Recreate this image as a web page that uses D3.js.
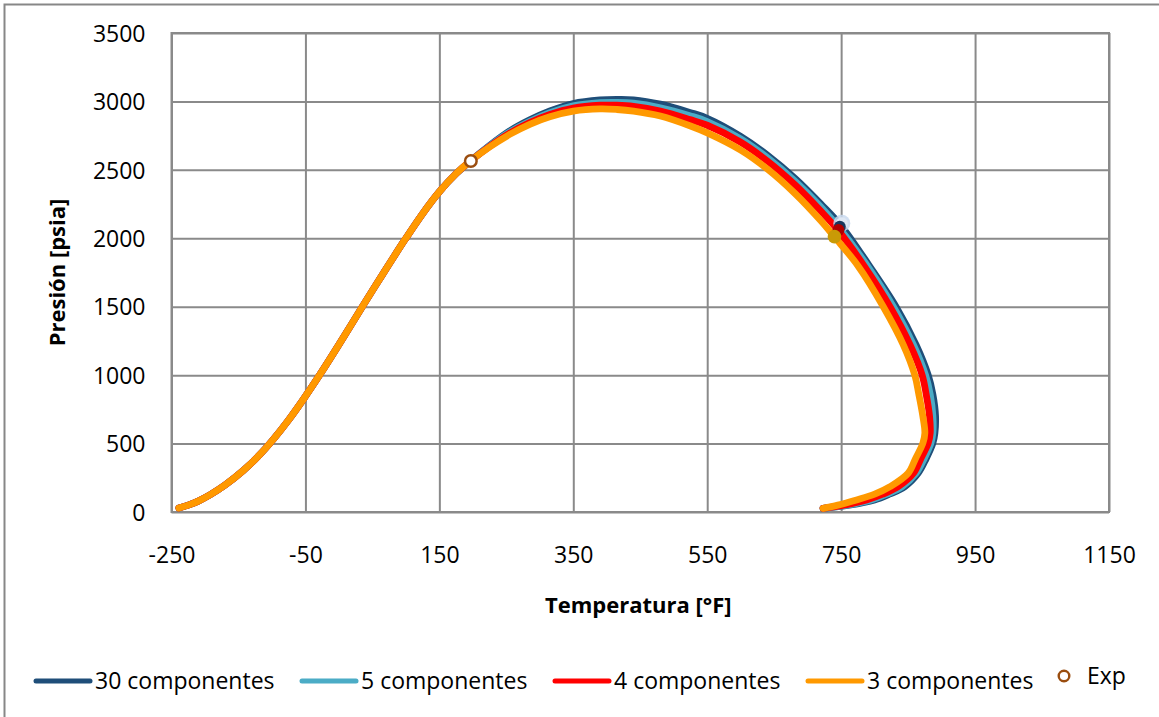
<!DOCTYPE html>
<html>
<head>
<meta charset="utf-8">
<script src="https://cdn.jsdelivr.net/npm/d3@7"></script>
<style>
  html, body { margin: 0; padding: 0; background: #fff; }
  svg { display: block; font-family: "Open Sans", Carlito, Calibri, sans-serif; }
</style>
</head>
<body>
<svg id="chart" width="1159" height="717"></svg>
<script>
// Axis ticks
const tempTicks = [-250, -50, 150, 350, 550, 750, 950, 1150];
const presTicks = [0, 500, 1000, 1500, 2000, 2500, 3000, 3500];

// Bubble-point branch, common to every model
const bubbleT = [-239, -225, -210, -192, -170, -143, -120, -98, -76, -54, -28, 0, 34, 66, 99, 125, 150, 175];
const bubbleP = [29, 50, 80, 127, 197, 302, 410, 531, 667, 817, 1007, 1223, 1492, 1742, 1993, 2180, 2340, 2472];

// Upper branch and dew-point branch of each model
const c30T = [197, 225, 255, 285, 315, 350, 390, 415, 440, 480, 524, 550, 600, 640, 681, 720, 751, 792, 832, 862, 880, 887, 891, 890, 887, 877, 865, 845, 822, 800, 762, 723];
const c30P = [2567, 2678, 2784, 2865, 2930, 2985, 3011, 3015, 3012, 2980, 2920, 2877, 2745, 2608, 2439, 2250, 2086, 1800, 1500, 1220, 1000, 860, 700, 577, 502, 390, 283, 185, 130, 88, 50, 27];

const c5T = [197, 225, 255, 285, 315, 350, 390, 415, 440, 480, 524, 550, 600, 640, 681, 720, 748, 789, 828, 858, 876, 883, 887, 887, 884, 874, 862, 841, 818, 795, 759, 723];
const c5P = [2567, 2675, 2777, 2855, 2917, 2968, 2991, 2993, 2987, 2954, 2896, 2853, 2727, 2589, 2419, 2228, 2070, 1800, 1500, 1220, 1000, 860, 700, 577, 502, 390, 283, 185, 130, 88, 50, 27];

const c4T = [197, 225, 255, 285, 315, 350, 390, 415, 440, 480, 524, 550, 600, 640, 681, 720, 746, 784, 823, 853, 871, 877, 882, 883, 880, 869, 858, 835, 812, 788, 754, 723];
const c4P = [2567, 2671, 2768, 2845, 2905, 2952, 2972, 2972, 2964, 2930, 2868, 2826, 2702, 2564, 2391, 2197, 2055, 1800, 1500, 1220, 1000, 860, 700, 577, 502, 390, 283, 185, 130, 88, 50, 27];

const c3T = [197, 225, 255, 285, 315, 350, 390, 415, 440, 480, 524, 550, 600, 640, 681, 720, 740, 775, 813, 843, 860, 866, 872, 875, 872, 861, 850, 823, 800, 773, 745, 723];
const c3P = [2567, 2667, 2759, 2833, 2888, 2929, 2945, 2941, 2929, 2893, 2822, 2770, 2644, 2505, 2327, 2126, 2010, 1800, 1500, 1220, 1000, 860, 700, 577, 502, 390, 283, 185, 130, 88, 50, 27];

// Critical points (T, P)
const critNames = ["30 componentes", "5 componentes", "4 componentes", "3 componentes"];
const critT = [748, 751, 746, 740];
const critP = [2085, 2110, 2061, 2012];

// Experimental saturation point
const expT = [197];
const expP = [2565];

const seriesNames = ["30 componentes", "5 componentes", "4 componentes", "3 componentes"];
const seriesColors = ["#1f4e79", "#4bacc6", "#ff0000", "#ff9900"];
const critFill = ["#17375e", "#dfe8f4", "#b00000", "#c99a06"];

const seriesT = [c30T, c5T, c4T, c3T];
const seriesP = [c30P, c5P, c4P, c3P];

const svg = d3.select("#chart");
const W = 1159, H = 717;
const plot = { left: 171.5, right: 1109, top: 33, bottom: 512 };

// Chart border
svg.append("rect")
  .attr("x", 4.5).attr("y", 4.5)
  .attr("width", W + 10).attr("height", H + 10)
  .attr("fill", "#fff").attr("stroke", "#878787").attr("stroke-width", 2);

const x = d3.scaleLinear().domain([-250, 1150]).range([plot.left, plot.right]);
const y = d3.scaleLinear().domain([0, 3500]).range([plot.bottom, plot.top]);

const gridColor = "#8a8a8a";
const tickFont = "\"Open Sans\", Carlito, Calibri, sans-serif";

// Vertical gridlines + x tick labels
const xAxis = svg.append("g")
  .attr("transform", `translate(0,${plot.bottom})`)
  .call(d3.axisBottom(x).tickValues(tempTicks).tickSize(-(plot.bottom - plot.top)).tickPadding(0).tickFormat(d => String(d)));
xAxis.select(".domain").remove();
xAxis.selectAll(".tick line").attr("stroke", gridColor).attr("stroke-width", 2);
xAxis.selectAll(".tick text")
  .attr("y", 51).attr("dy", 0)
  .attr("fill", "#000").attr("font-size", 23)
  .attr("font-family", tickFont);

// Horizontal gridlines + y tick labels
const yAxis = svg.append("g")
  .attr("transform", `translate(${plot.left},0)`)
  .call(d3.axisLeft(y).tickValues(presTicks).tickSize(-(plot.right - plot.left)).tickPadding(0).tickFormat(d => String(d)));
yAxis.select(".domain").remove();
yAxis.selectAll(".tick line").attr("stroke", gridColor).attr("stroke-width", 2);
yAxis.selectAll(".tick text")
  .attr("x", -26).attr("dy", "0.36em")
  .attr("fill", "#000").attr("font-size", 23)
  .attr("font-family", tickFont);

// Plot frame
svg.append("rect")
  .attr("x", plot.left).attr("y", plot.top)
  .attr("width", plot.right - plot.left).attr("height", plot.bottom - plot.top)
  .attr("fill", "none").attr("stroke", gridColor).attr("stroke-width", 2);

// Envelope lines
const line = d3.line()
  .x(d => x(d[0])).y(d => y(d[1]))
  .curve(d3.curveCatmullRom.alpha(0.5));

seriesNames.forEach((name, i) => {
  const pts = bubbleT.map((t, j) => [t, bubbleP[j]])
    .concat(seriesT[i].map((t, j) => [t, seriesP[i][j]]));
  svg.append("path")
    .datum(pts)
    .attr("d", line)
    .attr("fill", "none")
    .attr("stroke", seriesColors[i])
    .attr("stroke-width", 6.8)
    .attr("stroke-linecap", "round")
    .attr("stroke-linejoin", "round");
});

// Critical points
const crit = critNames.map((n, i) => ({ n, t: critT[i], p: critP[i], i }));
const drawOrder = [1, 0, 2, 3];
drawOrder.forEach(i => {
  const c = crit[i];
  if (i === 1) {
    svg.append("circle")
      .attr("cx", x(c.t)).attr("cy", y(c.p)).attr("r", 8.5)
      .attr("fill", "#c9d9ee").attr("opacity", 0.85);
    svg.append("circle")
      .attr("cx", x(c.t)).attr("cy", y(c.p)).attr("r", 6)
      .attr("fill", critFill[i]);
  } else {
    svg.append("circle")
      .attr("cx", x(c.t)).attr("cy", y(c.p)).attr("r", i === 3 ? 6.8 : 6)
      .attr("fill", critFill[i]);
  }
});

// Experimental point
svg.selectAll(".exp")
  .data(expT.map((t, i) => [t, expP[i]]))
  .join("circle")
  .attr("class", "exp")
  .attr("cx", d => x(d[0])).attr("cy", d => y(d[1]))
  .attr("r", 5.8)
  .attr("fill", "#fff").attr("stroke", "#9a4d0f").attr("stroke-width", 2.5);

// Axis titles
svg.append("text")
  .attr("x", (plot.left + plot.right) / 2 - 2).attr("y", 613)
  .attr("text-anchor", "middle")
  .attr("font-size", 22).attr("font-weight", "bold")
  .text("Temperatura [°F]");

svg.append("text")
  .attr("transform", `translate(65,${(plot.top + plot.bottom) / 2}) rotate(-90)`)
  .attr("text-anchor", "middle")
  .attr("font-size", 22).attr("font-weight", "bold")
  .text("Presión [psia]");

// Legend
const legendY = 681;
const legendX = [36, 302, 555, 808];
seriesNames.forEach((name, i) => {
  const lx = legendX[i];
  svg.append("line")
    .attr("x1", lx).attr("x2", lx + 54)
    .attr("y1", legendY).attr("y2", legendY)
    .attr("stroke", seriesColors[i]).attr("stroke-width", 5)
    .attr("stroke-linecap", "round");
  svg.append("text")
    .attr("x", lx + 59).attr("y", legendY + 8)
    .attr("font-size", 23)
    .text(name);
});
svg.append("circle")
  .attr("cx", 1064).attr("cy", legendY - 5).attr("r", 5.3)
  .attr("fill", "#fff").attr("stroke", "#9a4d0f").attr("stroke-width", 2.4);
svg.append("text")
  .attr("x", 1087).attr("y", legendY + 3)
  .attr("font-size", 23)
  .text("Exp");
</script>
</body>
</html>
